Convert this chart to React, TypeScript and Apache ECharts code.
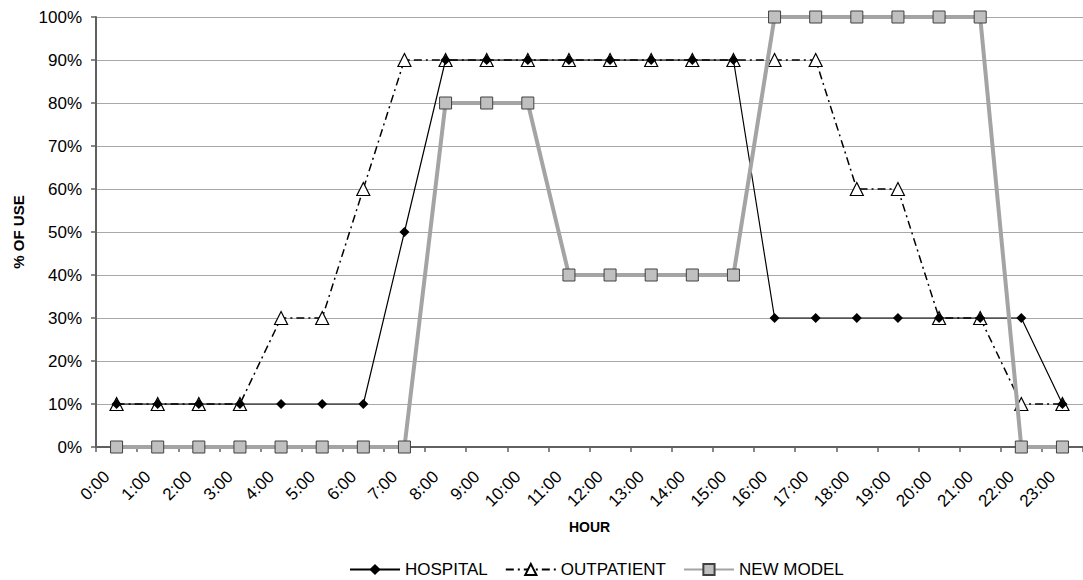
import React, { useEffect, useRef } from "react";
import * as echarts from "echarts";

// Hourly categories 0:00 … 23:00
const hours: string[] = Array.from({ length: 24 }, (_, h) => `${h}:00`);

// Percent of use per hour
const hospital: number[] = [10, 10, 10, 10, 10, 10, 10, 50, 90, 90, 90, 90, 90, 90, 90, 90, 30, 30, 30, 30, 30, 30, 30, 10];
const outpatient: number[] = [10, 10, 10, 10, 30, 30, 60, 90, 90, 90, 90, 90, 90, 90, 90, 90, 90, 90, 60, 60, 30, 30, 10, 10];
const newModel: number[] = [0, 0, 0, 0, 0, 0, 0, 0, 80, 80, 80, 40, 40, 40, 40, 40, 100, 100, 100, 100, 100, 100, 0, 0];

const yTicks: number[] = [0, 10, 20, 30, 40, 50, 60, 70, 80, 90, 100];

const FONT = "'Liberation Sans', Arial, sans-serif";

export default function App() {
  const ref = useRef<HTMLDivElement>(null);

  useEffect(() => {
    document.body.style.margin = "0";
    const chart = echarts.init(ref.current!, undefined, { renderer: "svg" });
    chart.setOption({
      animation: false,
      backgroundColor: "#ffffff",
      textStyle: { fontFamily: FONT },
      grid: { left: 96, top: 17, width: 996, height: 430, containLabel: false },
      legend: {
        left: 349,
        top: 561,
        padding: 0,
        itemWidth: 50,
        itemHeight: 14,
        itemGap: 17,
        textStyle: { fontFamily: FONT, fontSize: 17, color: "#000" },
        data: ["HOSPITAL", "OUTPATIENT", "NEW MODEL"],
      },
      xAxis: {
        type: "category",
        data: hours,
        boundaryGap: true,
        name: "HOUR",
        nameLocation: "middle",
        nameGap: 73,
        nameTextStyle: { fontFamily: FONT, fontSize: 14, fontWeight: "bold", color: "#000" },
        axisLine: { lineStyle: { color: "#606060", width: 2 } },
        axisTick: { show: true, length: 5, lineStyle: { color: "#606060", width: 1.5 } },
        axisLabel: {
          rotate: 45,
          interval: 0,
          margin: 17,
          padding: [0, 14, 0, 0],
          fontFamily: FONT,
          fontSize: 17,
          color: "#000",
        },
        splitLine: { show: false },
      },
      yAxis: {
        type: "value",
        min: yTicks[0],
        max: yTicks[yTicks.length - 1],
        interval: 10,
        name: "% OF USE",
        nameLocation: "middle",
        nameGap: 70,
        nameRotate: 90,
        nameTextStyle: { fontFamily: FONT, fontSize: 15, fontWeight: "bold", color: "#000" },
        axisLine: { show: true, lineStyle: { color: "#606060", width: 2 } },
        axisTick: { show: true, length: 5, lineStyle: { color: "#606060", width: 1.5 } },
        axisLabel: {
          margin: 14,
          fontFamily: FONT,
          fontSize: 17,
          color: "#000",
          formatter: (v: number) => `${v}%`,
        },
        splitLine: { show: true, lineStyle: { color: "#a8a8a8", width: 1 } },
      },
      series: [
        {
          name: "OUTPATIENT",
          type: "line",
          data: outpatient,
          z: 2,
          symbol: "triangle",
          symbolSize: 13,
          itemStyle: { color: "#ffffff", borderColor: "#000", borderWidth: 1.2 },
          lineStyle: { color: "#000", width: 1.5, type: [8, 4, 2, 4] },
        },
        {
          name: "HOSPITAL",
          type: "line",
          data: hospital,
          z: 3,
          symbol: "diamond",
          symbolSize: 10,
          itemStyle: { color: "#000", borderColor: "#000", borderWidth: 0 },
          lineStyle: { color: "#000", width: 1.2 },
        },
        {
          name: "NEW MODEL",
          type: "line",
          data: newModel,
          z: 4,
          symbol: "rect",
          symbolSize: 12,
          itemStyle: { color: "#c0c0c0", borderColor: "#404040", borderWidth: 1 },
          lineStyle: { color: "#a4a4a4", width: 4 },
        },
      ],
    });
    return () => chart.dispose();
  }, []);

  return (
    <div
      ref={ref}
      style={{ position: "absolute", left: 0, top: 0, width: 1083, height: 580 }}
    />
  );
}
